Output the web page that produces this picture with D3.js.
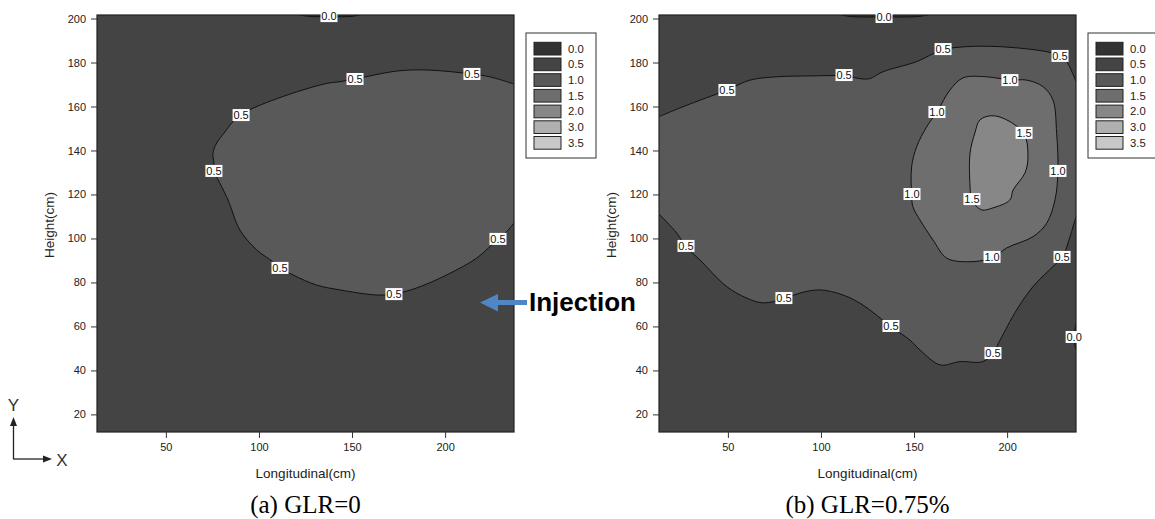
<!DOCTYPE html>
<html>
<head>
<meta charset="utf-8">
<script src="https://cdn.jsdelivr.net/npm/d3@7/dist/d3.min.js"></script>
<style>
  body { margin: 0; background: #fff; }
  svg text { font-family: "Liberation Sans", Arial, sans-serif; fill: #222; }
</style>
</head>
<body>
<svg id="chart" width="1155" height="519"></svg>
<script>
// axis extents (cm) and ticks
const xDomain = [13, 237];
const yDomain = [12, 201.6];
const xTicks = [50, 100, 150, 200];
const yTicks = [20, 40, 60, 80, 100, 120, 140, 160, 180, 200];

// legend levels and their greys
const legendLevels = ['0.0', '0.5', '1.0', '1.5', '2.0', '3.0', '3.5'];
const legendFills = ['#333333', '#444444', '#595959', '#6e6e6e', '#878787', '#b0b0b0', '#c8c8c8'];

// (a) GLR=0 : contour lines, [x cm, y cm]
const aTop00 = [[122,201.6],[127,201.0],[138,200.8],[150,201.0],[154,201.6]];
const aLine05 = [[237,170.2],[224,173.5],[214,174.8],[190,176.6],[174,176.1],[151.5,172.5],[143.5,171.3],
  [136.5,170.5],[118.3,166.1],[97,159.3],[90.4,156.1],[85.4,152.5],[81.8,148.5],[77.3,143.4],[75.3,138.9],
  [75.8,134.3],[75.9,130.7],[80,123.5],[83.4,117.5],[89.8,103.8],[98.8,94.8],[107.5,89.4],[111.3,86.6],
  [118.3,83.4],[131,78.8],[143.5,76.6],[163,74.3],[172.5,74.7],[184.7,77.5],[200.8,83.4],[217,91.1],
  [228.4,99.8],[233,103.1],[237,107]];
const aLabels = [[137.6,201.1,'0.0'],[151.6,172.5,'0.5'],[214.4,174.8,'0.5'],[90.4,156.1,'0.5'],
  [75.8,130.7,'0.5'],[228.4,99.8,'0.5'],[111.3,86.6,'0.5'],[172.5,74.7,'0.5']];

// (b) GLR=0.75%
const bTop00 = [[111,201.6],[116,200.9],[134,200.7],[152,200.9],[157.5,201.6]];
const bEdge00 = [[237,61.6],[236.3,58],[236.1,53],[237,49.3]];
const bUpper05 = [[13,155.4],[25.9,159.9],[49.5,167.5],[61.9,172],[76.2,173.5],[94.1,173.9],[112.4,173.9],
  [122.6,172.5],[126.3,172.7],[133.3,175.8],[151.4,180.4],[165,185.7],[178.3,187.2],[196.2,187.2],
  [221.3,184.9],[228.4,183],[232,180.4],[237,171.3]];
const bLower05 = [[13,111.1],[22.5,102.5],[27.5,96.3],[35,90.2],[49.4,78.1],[60.1,72.9],[68.9,70.7],
  [80.1,72.6],[88.7,75.2],[99.5,76.6],[111.8,74.3],[122.6,69.7],[137.6,59.9],[147.8,53.8],[153.2,49.3],
  [164,42.5],[174.7,44],[187,44],[192.4,47.9],[196.2,53.8],[205.1,67.5],[213.9,78.1],[224.6,87.2],
  [229.9,91.6],[232.7,97.9],[237,109.9]];
const bRing10 = [[169.3,167.5],[176.3,173],[189,173.5],[201.9,172],[210.5,172],[219.3,169],[224.6,163],
  [226.6,148],[227.3,130.4],[225.7,117.5],[221.3,107],[213.9,100.8],[199.8,95.7],[191.9,91.1],[178.3,89.4],
  [167.5,91.1],[160.2,99.3],[153.2,108.4],[149.4,114.4],[148.7,120.2],[148.7,132.6],[151.4,141.7],
  [156.8,150.8],[162.3,157.5]];
const bRing15 = [[185.4,153.9],[191.7,155.8],[199.8,153.9],[209.1,147.5],[211.2,137.2],[209.6,129.8],
  [203.2,122],[201.5,117.5],[192.4,113.9],[186.3,113],[181,117.5],[180.1,123.5],[180.1,138.9],[182.7,148]];
const bLabels = [[133.9,200.7,'0.0'],[165.6,186.1,'0.5'],[228.4,183,'0.5'],[112.4,174.3,'0.5'],
  [49.5,167.5,'0.5'],[201.5,172,'1.0'],[162.3,157.5,'1.0'],[209.1,148,'1.5'],[227.3,130.7,'1.0'],
  [148.9,120.2,'1.0'],[181.1,117.9,'1.5'],[191.9,91.6,'1.0'],[229.5,91.6,'0.5'],[27.5,96.6,'0.5'],
  [80.1,72.9,'0.5'],[137.6,60.2,'0.5'],[192.4,47.9,'0.5'],[236,55.2,'0.0']];

const svg = d3.select('#chart');
const plotTop = 15, plotBottom = 432;

function panel(id, left, right, legendX, caption, labelList, draw) {
  const x = d3.scaleLinear().domain(xDomain).range([left, right]);
  const y = d3.scaleLinear().domain(yDomain).range([plotBottom, plotTop]);
  const g = svg.append('g');
  g.append('clipPath').attr('id', 'clip' + id)
    .append('rect').attr('x', left).attr('y', plotTop).attr('width', right - left).attr('height', plotBottom - plotTop);
  const plot = g.append('g').attr('clip-path', `url(#clip${id})`);
  plot.append('rect').attr('x', left).attr('y', plotTop).attr('width', right - left).attr('height', plotBottom - plotTop)
    .attr('fill', legendFills[1]);
  const open = d3.line().x(d => x(d[0])).y(d => y(d[1])).curve(d3.curveCatmullRom.alpha(0.5));
  const closed = d3.line().x(d => x(d[0])).y(d => y(d[1])).curve(d3.curveCatmullRomClosed.alpha(0.5));
  draw(plot, open, closed);

  // frame + axes
  g.append('rect').attr('x', left).attr('y', plotTop).attr('width', right - left).attr('height', plotBottom - plotTop)
    .attr('fill', 'none').attr('stroke', '#222').attr('stroke-width', 1.2);
  const ax = g.append('g').attr('transform', `translate(0,${plotBottom})`)
    .call(d3.axisBottom(x).tickValues(xTicks).tickSize(6).tickPadding(5));
  const ay = g.append('g').attr('transform', `translate(${left},0)`)
    .call(d3.axisLeft(y).tickValues(yTicks).tickSize(6).tickPadding(5));
  [ax, ay].forEach(a => {
    a.select('.domain').remove();
    a.selectAll('text').attr('font-size', 11).attr('font-family', '"Liberation Sans", Arial, sans-serif').attr('fill', '#222');
    a.selectAll('line').attr('stroke', '#333');
  });

  // contour labels sit above the frame, as in the original
  labelList.forEach(([lx, ly, t]) => {
    const lb = g.append('g').attr('transform', `translate(${x(lx)},${y(ly)})`);
    lb.append('rect').attr('x', -8.5).attr('y', -6).attr('width', 17).attr('height', 12).attr('fill', '#fff');
    lb.append('text').attr('text-anchor', 'middle').attr('dy', '0.36em').attr('font-size', 11)
      .style('fill', '#111').text(t);
  });

  g.append('text').attr('x', (left + right) / 2).attr('y', 478).attr('text-anchor', 'middle')
    .attr('font-size', 13.5).text('Longitudinal(cm)');
  g.append('text').attr('transform', `translate(${left - 48},225) rotate(-90)`).attr('text-anchor', 'middle')
    .attr('dominant-baseline', 'central').attr('font-size', 13.5).text('Height(cm)');
  g.append('text').attr('x', (left + right) / 2).attr('y', 513).attr('text-anchor', 'middle')
    .style('font-family', '"Liberation Serif", "Times New Roman", serif').style('fill', '#000')
    .attr('font-size', 25).text(caption);

  // legend
  const lg = g.append('g').attr('transform', `translate(${legendX},33)`);
  lg.append('rect').attr('width', 70).attr('height', 125).attr('fill', '#fff').attr('stroke', '#333');
  legendLevels.forEach((lv, i) => {
    lg.append('rect').attr('x', 8).attr('y', 9.3 + i * 15.7).attr('width', 27).attr('height', 12.7)
      .attr('fill', legendFills[i]).attr('stroke', '#222');
    lg.append('text').attr('x', 42).attr('y', 15.7 + i * 15.7).attr('dy', '0.35em')
      .attr('font-size', 11.3).text(lv);
  });
}

function contour(sel, d, fill) {
  sel.append('path').attr('d', d).attr('fill', fill).attr('stroke', 'none');
}
function stroke(sel, d) {
  sel.append('path').attr('d', d).attr('fill', 'none').attr('stroke', '#111').attr('stroke-width', 1);
}

panel('a', 97, 514, 526, '(a) GLR=0', aLabels, (p, open) => {
  contour(p, open(aLine05) + 'Z', legendFills[2]);
  stroke(p, open(aLine05));
  contour(p, open(aTop00) + 'Z', legendFills[0]);
  stroke(p, open(aTop00));
});

panel('b', 659, 1076, 1088, '(b) GLR=0.75%', bLabels, (p, open, closed) => {
  const lowerRev = bLower05.slice().reverse();
  contour(p, open(bUpper05) + open(lowerRev).replace(/^M/, 'L') + 'Z', legendFills[2]);
  contour(p, closed(bRing10), legendFills[3]);
  contour(p, closed(bRing15), legendFills[4]);
  contour(p, open(bTop00) + 'Z', legendFills[0]);
  contour(p, open(bEdge00) + 'Z', legendFills[0]);
  [bUpper05, bLower05, bTop00, bEdge00].forEach(c => stroke(p, open(c)));
  [bRing10, bRing15].forEach(c => stroke(p, closed(c)));
});

// injection marker
const inj = svg.append('g');
inj.append('path').attr('d', 'M480,302.5 L498,294 L498,300 L527,300 L527,305 L498,305 L498,311.5 Z')
  .attr('fill', '#4f86c6');
inj.append('text').attr('x', 529).attr('y', 310.5).attr('font-size', 26).attr('font-weight', 'bold')
  .style('fill', '#000').text('Injection');

// coordinate icon
const ic = svg.append('g').attr('stroke', '#222').attr('stroke-width', 1.3);
ic.append('line').attr('x1', 13.5).attr('y1', 459).attr('x2', 13.5).attr('y2', 424);
ic.append('line').attr('x1', 13).attr('y1', 459).attr('x2', 45).attr('y2', 459);
svg.append('path').attr('d', 'M13.5,417 L10,426 L17,426 Z').attr('fill', '#222');
svg.append('path').attr('d', 'M52,459 L43,455.5 L43,462.5 Z').attr('fill', '#222');
svg.append('text').attr('x', 13.5).attr('y', 411).attr('text-anchor', 'middle').attr('font-size', 17)
  .style('fill', '#333').text('Y');
svg.append('text').attr('x', 62).attr('y', 466).attr('text-anchor', 'middle').attr('font-size', 17)
  .style('fill', '#333').text('X');
</script>
</body>
</html>
